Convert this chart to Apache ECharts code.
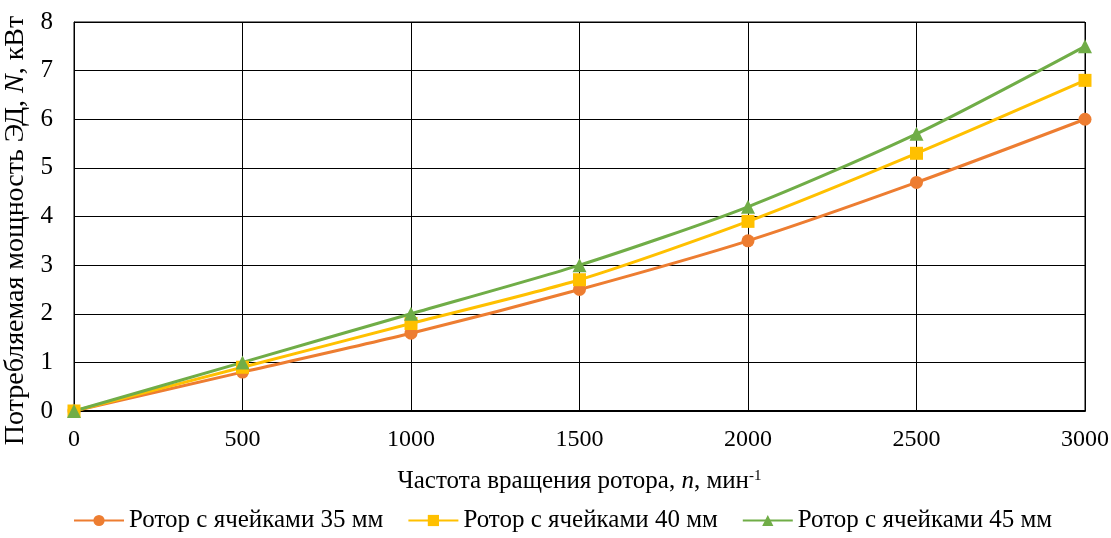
<!DOCTYPE html>
<html><head><meta charset="utf-8">
<script src="https://cdn.jsdelivr.net/npm/echarts@6/dist/echarts.min.js"></script>
<style>html,body{margin:0;padding:0;background:#fff}#c{width:1111px;height:538px}</style>
</head><body><div id="c"></div>
<script>
const xValues = [0, 500, 1000, 1500, 2000, 2500, 3000];
const rotor35 = [0, 0.8, 1.6, 2.5, 3.5, 4.7, 6.0];
const rotor40 = [0, 0.9, 1.8, 2.7, 3.9, 5.3, 6.8];
const rotor45 = [0, 1.0, 2.0, 3.0, 4.2, 5.7, 7.5];
const seriesNames = ['Ротор с ячейками 35 мм', 'Ротор с ячейками 40 мм', 'Ротор с ячейками 45 мм'];

const font = 'Liberation Serif';
const chart = echarts.init(document.getElementById('c'));
function mk(name, vals, color, symbol, size) {
  return {
    name: name, type: 'line', smooth: 0.25,
    data: xValues.map((x, i) => [x, vals[i]]),
    symbol: symbol, symbolSize: size,
    lineStyle: {color: color, width: 3},
    itemStyle: {color: color},
    z: 3
  };
}
chart.setOption({
  animation: false,
  textStyle: {fontFamily: font, color: '#000'},
  grid: {left: 74, right: 26, top: 22, bottom: 127, containLabel: false, outerBoundsMode: 'none',
         show: true, borderColor: '#000', borderWidth: 1},
  xAxis: {
    type: 'value', min: 0, max: 3000, interval: 500,
    axisLine: {show: true, lineStyle: {color: '#000', width: 2}},
    axisTick: {show: false},
    splitLine: {show: true, lineStyle: {color: '#000', width: 1}},
    axisLabel: {fontFamily: font, fontSize: 24, color: '#000', margin: 17, formatter: v => String(v)},
    name: '{a|Частота вращения ротора, }{i|n}{a|, мин}{s|-1}',
    nameLocation: 'middle', nameGap: 58,
    nameTextStyle: {rich: {
      a: {fontFamily: font, fontSize: 25, color: '#000'},
      i: {fontFamily: font, fontSize: 25, color: '#000', fontStyle: 'italic'},
      s: {fontFamily: font, fontSize: 15, color: '#000', verticalAlign: 'top', padding: [0,0,10,0]}
    }}
  },
  yAxis: {
    type: 'value', min: 0, max: 8, interval: 1,
    axisLine: {show: true, lineStyle: {color: '#000', width: 1}},
    axisTick: {show: false},
    splitLine: {show: true, lineStyle: {color: '#000', width: 1}},
    axisLabel: {fontFamily: font, fontSize: 25, color: '#000', margin: 21},
    name: '{a|Потребляемая мощность ЭД, }{i|N}{a|, кВт}',
    nameLocation: 'middle', nameGap: 31,
    nameTextStyle: {padding: [0, 28, 0, 0], rich: {
      a: {fontFamily: font, fontSize: 28, color: '#000'},
      i: {fontFamily: font, fontSize: 28, color: '#000', fontStyle: 'italic'}
    }}
  },
  legend: {
    bottom: 0, left: 68, itemGap: 24, itemWidth: 50, itemHeight: 14,
    textStyle: {fontFamily: font, fontSize: 25, color: '#000'},
    data: seriesNames
  },
  series: [
    mk(seriesNames[0], rotor35, '#ED7D31', 'circle', 13),
    mk(seriesNames[1], rotor40, '#FFC000', 'rect', 13),
    mk(seriesNames[2], rotor45, '#70AD47', 'triangle', 14)
  ]
});
</script></body></html>
